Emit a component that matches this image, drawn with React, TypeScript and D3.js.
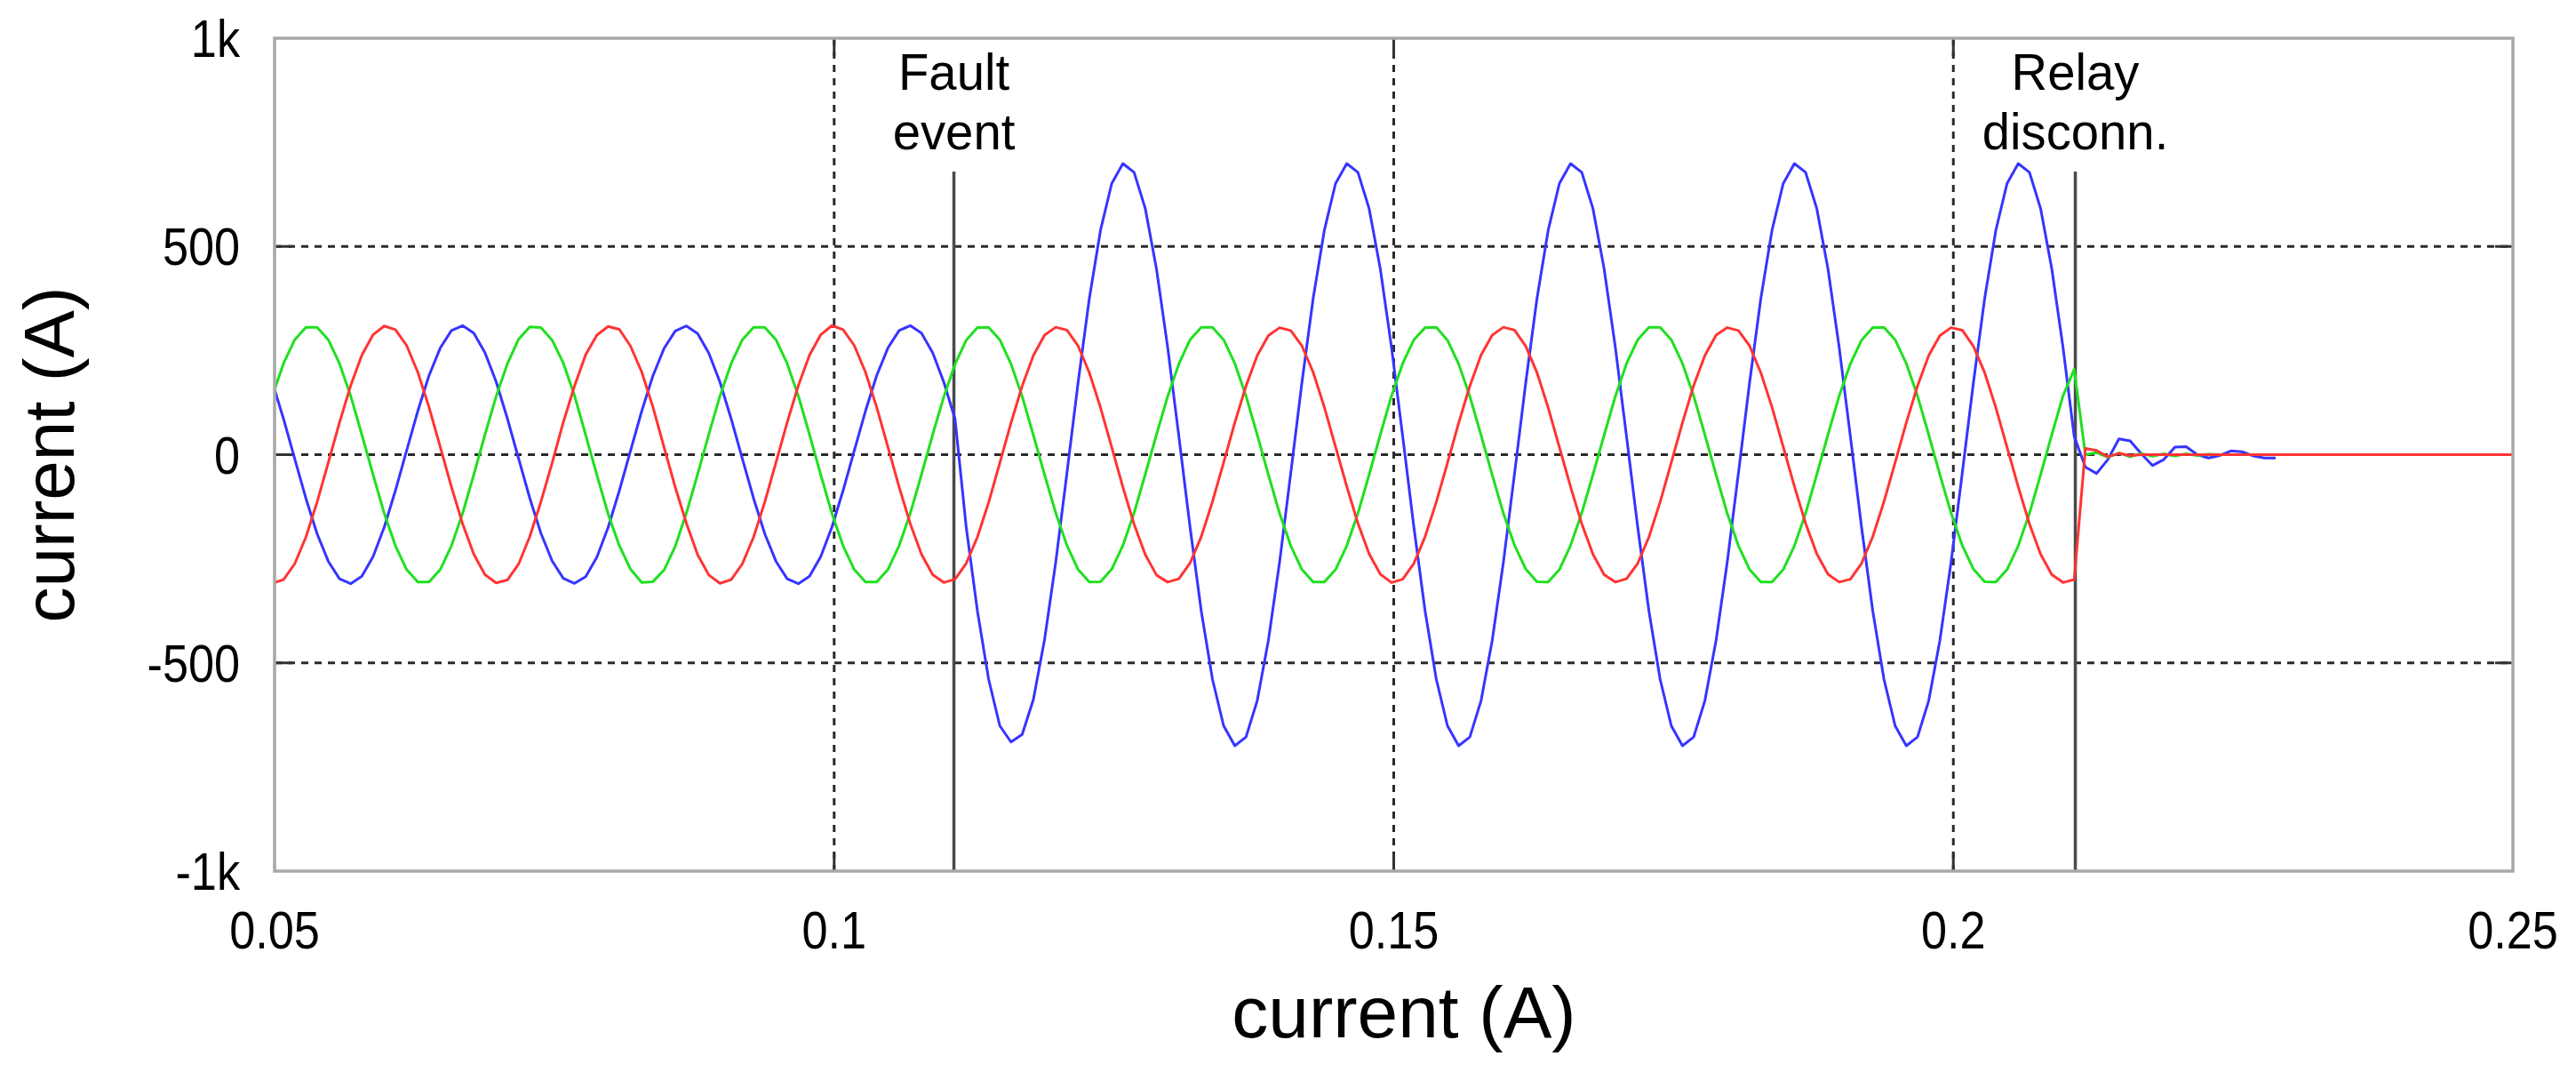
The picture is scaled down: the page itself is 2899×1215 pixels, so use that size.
import React from "react";
import * as d3 from "d3";

const width = 2899;
const height = 1215;
const plotLeft = 309;
const plotRight = 2828;
const plotTop = 43;
const plotBottom = 980;
const font = "'Liberation Sans', Arial, sans-serif";

// sample clock of the recorder: 1 ms steps, first sample just left of 0.05 s
const sampleStart = 0.0498;
const sampleStep = 0.001;

const xTicks = [0.05, 0.1, 0.15, 0.2, 0.25];
const xTickLabels = ["0.05", "0.1", "0.15", "0.2", "0.25"];
const yTicks = [1000, 500, 0, -500, -1000];
const yTickLabels = ["1k", "500", "0", "-500", "-1k"];
const gridX = [0.1, 0.15, 0.2];
const gridY = [500, 0, -500];

const eventTimes = [0.1107, 0.2109];
const eventLabels = [
  ["Fault", "event"],
  ["Relay", "disconn."],
];
const eventLineTop = 680; // A, where the solid marker lines start

// phase currents (A), every 1 ms
const redCurrent = [
  -309, -300, -262, -198, -114, -19, 77, 166, 239, 288, 309, 300, 262, 198, 114, 19, -77, -166, -239, -288,
  -308, -301, -263, -197, -113, -20, 78, 165, 240, 287, 308, 301, 261, 199, 115, 18, -78, -165, -240, -289,
  -309, -300, -262, -198, -114, -19, 77, 166, 239, 288, 310, 300, 262, 198, 114, 19, -77, -166, -239, -288,
  -307, -299, -261, -198, -115, -20, 76, 165, 238, 287, 306, 299, 261, 197, 113, 18, -78, -167, -240, -289,
  -306, -298, -260, -197, -113, -19, 77, 165, 238, 286, 305, 298, 261, 198, 114, 19, -76, -165, -238, -287,
  -307, -299, -261, -197, -114, -20, 76, 165, 239, 287, 306, 299, 260, 197, 113, 18, -77, -166, -239, -288,
  -306, -298, -261, -198, -114, -19, 77, 166, 238, 287, 305, 298, 261, 197, 114, 19, -76, -165, -238, -287,
  -306, -299, -261, -197, -113, -19, 77, 165, 238, 286, 305, 299, 260, 197, 113, 18, -77, -166, -239, -288,
  -307, -300, 15, 10, -5, 3, -2, 0, 0, 0, 0, 0, 0, 0, 0, 0, 0, 0, 0, 0,
  0, 0, 0, 0, 0, 0, 0, 0, 0, 0, 0, 0, 0, 0, 0, 0, 0, 0, 0, 0,
  0, 0,
];

const greenCurrent = [
  141, 219, 276, 306, 306, 276, 219, 141, 48, -48, -141, -219, -276, -306, -306, -276, -219, -141, -48, 48,
  140, 218, 277, 307, 305, 275, 220, 142, 47, -49, -142, -218, -275, -307, -305, -277, -220, -140, -47, 49,
  141, 219, 276, 306, 306, 276, 219, 141, 48, -48, -141, -219, -276, -306, -306, -276, -219, -141, -48, 48,
  139, 217, 275, 305, 306, 276, 218, 140, 47, -48, -140, -218, -276, -306, -305, -275, -218, -140, -47, 48,
  140, 218, 276, 306, 306, 276, 219, 141, 48, -48, -141, -219, -276, -306, -306, -276, -219, -141, -48, 48,
  141, 219, 276, 305, 306, 275, 218, 140, 47, -49, -141, -218, -275, -305, -306, -276, -218, -140, -48, 47,
  140, 219, 276, 306, 306, 276, 219, 141, 48, -48, -141, -219, -276, -306, -306, -276, -219, -141, -48, 48,
  141, 218, 275, 305, 306, 276, 219, 141, 48, -48, -140, -218, -275, -305, -306, -276, -219, -141, -48, 48,
  141, 205, 0, 5, -6, 4, -5, 3, -4, 2, -3, 2, -2, 1, 0,
];

const blueCurrent = [
  174, 86, -10, -105, -190, -256, -298, -310, -292, -245, -174, -86, 10, 105, 190, 256, 298, 310, 292, 245,
  175, 87, -9, -104, -189, -255, -297, -309, -293, -246, -175, -87, 9, 104, 189, 255, 297, 309, 291, 244,
  174, 86, -10, -105, -190, -256, -298, -310, -292, -245, -174, -86, 10, 105, 190, 256, 298, 310, 292, 245,
  174, 86, -174, -375, -539, -651, -690, -672, -588, -444, -258, -44, 174, 375, 539, 651, 699, 678, 591, 446,
  258, 44, -174, -375, -539, -651, -699, -678, -591, -446, -258, -44, 174, 375, 539, 651, 699, 678, 591, 446,
  258, 44, -174, -375, -539, -651, -699, -678, -591, -446, -258, -44, 174, 375, 539, 651, 699, 678, 591, 446,
  258, 44, -174, -375, -539, -651, -699, -678, -591, -446, -258, -44, 174, 375, 539, 651, 699, 678, 591, 446,
  258, 44, -174, -375, -539, -651, -699, -678, -591, -446, -258, -44, 174, 375, 539, 651, 699, 678, 591, 446,
  258, 44, -30, -45, -12, 38, 33, 2, -26, -12, 18, 19, 0, -8, -2, 9, 7, -3, -8, -8,
];

const series = [
  { name: "blue", values: blueCurrent, color: "#3535ff" },
  { name: "green", values: greenCurrent, color: "#1fe01f" },
  { name: "red", values: redCurrent, color: "#ff3434" },
];

const times = d3.range(redCurrent.length).map((i) => sampleStart + i * sampleStep);

const x = d3.scaleLinear().domain([0.05, 0.25]).range([plotLeft, plotRight]);
const y = d3.scaleLinear().domain([-1000, 1000]).range([plotBottom, plotTop]);

// the figure's lettering is a slightly condensed Helvetica
const Label = ({ x: lx, y: ly, size, squeeze = 1, anchor = "middle", children }: any) => (
  <text
    transform={`translate(${lx},${ly}) scale(${squeeze},1)`}
    textAnchor={anchor}
    fontFamily={font}
    fontSize={size}
    fill="#000"
  >
    {children}
  </text>
);

const App = () => {
  const line = d3
    .line<number>()
    .x((_, i) => x(times[i]))
    .y((d) => y(d));

  const tickLen = 20;

  return (
    <svg
      width={width}
      height={height}
      style={{ position: "absolute", left: 0, top: 0, background: "white" }}
    >
      <defs>
        <clipPath id="plot-clip">
          <rect x={plotLeft} y={plotTop} width={plotRight - plotLeft} height={plotBottom - plotTop} />
        </clipPath>
      </defs>
      <rect width={width} height={height} fill="white" />

      {/* dotted grid */}
      {gridX.map((t) => (
        <line
          key={"gx" + t}
          x1={x(t)}
          x2={x(t)}
          y1={plotTop}
          y2={plotBottom}
          stroke="#2a2a2a"
          strokeWidth={3}
          strokeDasharray="8 7"
        />
      ))}
      {gridY.map((v) => (
        <line
          key={"gy" + v}
          x1={plotLeft}
          x2={plotRight}
          y1={y(v)}
          y2={y(v)}
          stroke="#2a2a2a"
          strokeWidth={3}
          strokeDasharray="8 7"
        />
      ))}

      {/* inward ticks */}
      {gridX.map((t) => (
        <g key={"tx" + t} stroke="#333" strokeWidth={3}>
          <line x1={x(t)} x2={x(t)} y1={plotTop} y2={plotTop + tickLen} />
          <line x1={x(t)} x2={x(t)} y1={plotBottom} y2={plotBottom - tickLen} />
        </g>
      ))}
      {gridY.map((v) => (
        <g key={"ty" + v} stroke="#333" strokeWidth={3}>
          <line x1={plotLeft} x2={plotLeft + tickLen} y1={y(v)} y2={y(v)} />
          <line x1={plotRight} x2={plotRight - tickLen} y1={y(v)} y2={y(v)} />
        </g>
      ))}

      {/* event markers */}
      {eventTimes.map((t) => (
        <line
          key={"ev" + t}
          x1={x(t)}
          x2={x(t)}
          y1={y(eventLineTop)}
          y2={plotBottom}
          stroke="#4a4a4a"
          strokeWidth={3.5}
        />
      ))}

      {/* phase currents */}
      <g clipPath="url(#plot-clip)" fill="none">
        {series.map((s) => (
          <path
            key={s.name}
            d={line(s.values) || ""}
            stroke={s.color}
            strokeWidth={3}
            strokeLinejoin="round"
          />
        ))}
      </g>

      {/* frame */}
      <rect
        x={plotLeft}
        y={plotTop}
        width={plotRight - plotLeft}
        height={plotBottom - plotTop}
        fill="none"
        stroke="#a8a8a8"
        strokeWidth={3.5}
      />

      {/* event labels */}
      {eventTimes.map((t, i) => (
        <g key={"el" + t}>
          <Label x={x(t)} y={101} size={58} squeeze={0.97}>
            {eventLabels[i][0]}
          </Label>
          <Label x={x(t)} y={168} size={58} squeeze={0.97}>
            {eventLabels[i][1]}
          </Label>
        </g>
      ))}

      {/* tick labels */}
      {yTicks.map((v, i) => (
        <Label key={"yl" + v} x={270} y={y(v) + 21} size={60} squeeze={0.87} anchor="end">
          {yTickLabels[i]}
        </Label>
      ))}
      {xTicks.map((t, i) => (
        <Label key={"xl" + t} x={x(t)} y={1067} size={60} squeeze={0.87}>
          {xTickLabels[i]}
        </Label>
      ))}

      {/* axis titles */}
      <Label x={1580} y={1167} size={82}>
        current (A)
      </Label>
      <text
        transform={`translate(83, ${(plotTop + plotBottom) / 2}) rotate(-90)`}
        textAnchor="middle"
        fontFamily={font}
        fontSize={80}
        fill="#000"
      >
        current (A)
      </text>
    </svg>
  );
};

export default App;
